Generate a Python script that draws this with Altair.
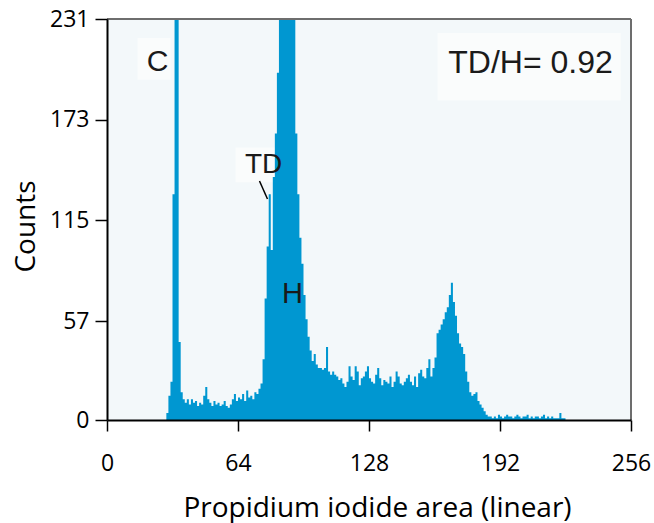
import altair as alt
import pandas as pd

# ---- data ----
start_channel = 29
counts = [
    4, 14, 22, 130, 260, 240, 45, 16, 12, 10,         # 29-38
    12, 9, 12, 10, 11, 8, 10, 9, 14, 19,              # 39-48
    12, 10, 8, 11, 9, 10, 8, 9, 11, 8,                # 49-58
    7, 9, 12, 15, 11, 13, 12, 15, 11, 17,             # 59-68
    13, 14, 12, 16, 15, 18, 21, 35, 70, 100,          # 69-78
    130, 98, 140, 165, 200, 245, 270, 290, 300, 295,  # 79-88
    280, 260, 240, 165, 130, 105, 90, 72, 58, 48,     # 89-98
    40, 34, 38, 32, 30, 30, 29, 30, 42, 28,           # 99-108
    26, 28, 26, 25, 23, 24, 21, 19, 22, 31,           # 109-118
    25, 23, 31, 28, 20, 24, 25, 28, 31, 24,           # 119-128
    22, 21, 26, 30, 24, 20, 23, 22, 21, 25,           # 129-138
    19, 22, 28, 25, 21, 20, 22, 24, 26, 22,           # 139-148
    20, 25, 19, 27, 29, 25, 24, 30, 35, 25,           # 149-158
    30, 36, 50, 52, 55, 58, 62, 65, 72, 79,           # 159-168
    68, 60, 50, 44, 42, 38, 28, 22, 16, 14,           # 169-178
    15, 16, 11, 9, 7, 5, 3, 2,                        # 179-186
    2, 1, 2, 1, 3, 2, 1, 2, 3, 2,                     # 187-196
    2, 1, 2, 3, 2, 1, 2, 2, 3, 1,                     # 197-206
    2, 1, 2, 2, 1, 2, 3, 1, 2, 1,                     # 207-216
    2, 1, 1, 1, 4, 1, 1, 0, 0,                        # 217-225
]
x_ticks = [0, 64, 128, 192, 256]
y_ticks = [0, 57, 115, 173, 231]

label_text = ["C", "TD", "H", "TD/H= 0.92"]
label_x = [24.7, 76.5, 90.6, 206.9]
label_y = [206, 147, 72.6, 205.6]
label_size = [30, 28, 29, 32]

box_x = [14.9, 62.8, 161.5]
box_x2 = [31.0, 85.7, 251.0]
box_y = [196, 137, 184]
box_y2 = [220, 157, 223]

leader_x = [74.5]
leader_x2 = [78.4]
leader_y = [137.7]
leader_y2 = [127.3]

# ---- tables ----
vals = [0] * 257
for i, c in enumerate(counts):
    vals[start_channel + i] = c
hist = pd.DataFrame({"channel": list(range(257)), "count": vals})
labels = pd.DataFrame({"channel": label_x, "count": label_y, "text": label_text, "fs": label_size})
boxes = pd.DataFrame({"channel": box_x, "channel2": box_x2, "count": box_y, "count2": box_y2})
leader = pd.DataFrame({"channel": leader_x, "channel2": leader_x2, "count": leader_y, "count2": leader_y2})

FONT = "Open Sans"
NARROW = "Liberation Sans"
W, H = 524, 401

xscale = alt.Scale(domain=[0, 256], nice=False, zero=False)
yscale = alt.Scale(domain=[0, 231], nice=False, zero=False)

xaxis = alt.Axis(
    values=x_ticks, title="Propidium iodide area (linear)", grid=False, zindex=2,
    tickSize=11, tickWidth=1.5, domain=True, domainWidth=2, domainColor="black", tickColor="black",
    labelFont=FONT, labelFontSize=23, labelColor="black", labelPadding=21,
    labelFlush=False, labelOverlap=False,
    titleFont=FONT, titleFontSize=28, titleFontWeight="normal", titleColor="black",
    titleX=270, titleY=96, titleBaseline="alphabetic", titleAlign="center",
)
yaxis = alt.Axis(
    values=y_ticks, title="Counts", grid=False, zindex=2,
    tickSize=12, tickWidth=1.5, domain=True, domainWidth=2, domainColor="black", tickColor="black",
    labelFont=FONT, labelFontSize=23, labelColor="black", labelPadding=6,
    labelOverlap=False,
    titleFont=FONT, titleFontSize=28, titleFontWeight="normal", titleColor="black",
    titleAngle=270, titleX=-73, titleY=207, titleBaseline="alphabetic", titleAlign="center",
)

box_layer = alt.Chart(boxes).mark_rect(fill="#FAFCFC").encode(
    x=alt.X("channel:Q", scale=xscale, axis=xaxis),
    x2="channel2:Q",
    y=alt.Y("count:Q", scale=yscale, axis=yaxis),
    y2="count2:Q",
)

area = alt.Chart(hist).mark_area(interpolate="step-after", clip=True, color="#0097D1").encode(
    x=alt.X("channel:Q", scale=xscale, axis=xaxis),
    y=alt.Y("count:Q", scale=yscale, axis=yaxis),
)

lead = alt.Chart(leader).mark_rule(color="black", strokeWidth=1.5).encode(
    x="channel:Q", x2="channel2:Q", y="count:Q", y2="count2:Q",
)

text = alt.Chart(labels).mark_text(font=NARROW, color="#1a1a1a", align="center", baseline="middle").encode(
    x="channel:Q", y="count:Q", text="text:N", size=alt.Size("fs:Q", scale=None, legend=None),
)

frame_top = alt.Chart(hist).mark_rule(color="#6E6E6E", strokeWidth=1.2).encode(
    x=alt.value(0), x2=alt.value(W), y=alt.value(0)
)
frame_right = alt.Chart(hist).mark_rule(color="#6E6E6E", strokeWidth=1.2).encode(
    x=alt.value(W), y=alt.value(0), y2=alt.value(H)
)

chart = alt.layer(box_layer, area, lead, text, frame_top, frame_right).properties(
    width=W, height=H,
    autosize=alt.AutoSizeParams(type="none"),
    padding={"left": 107, "top": 19, "right": 23, "bottom": 103},
).configure_view(fill="#F3F8FA", strokeWidth=0)

chart.save("out.html", embed_options={"renderer": "svg", "actions": False})
